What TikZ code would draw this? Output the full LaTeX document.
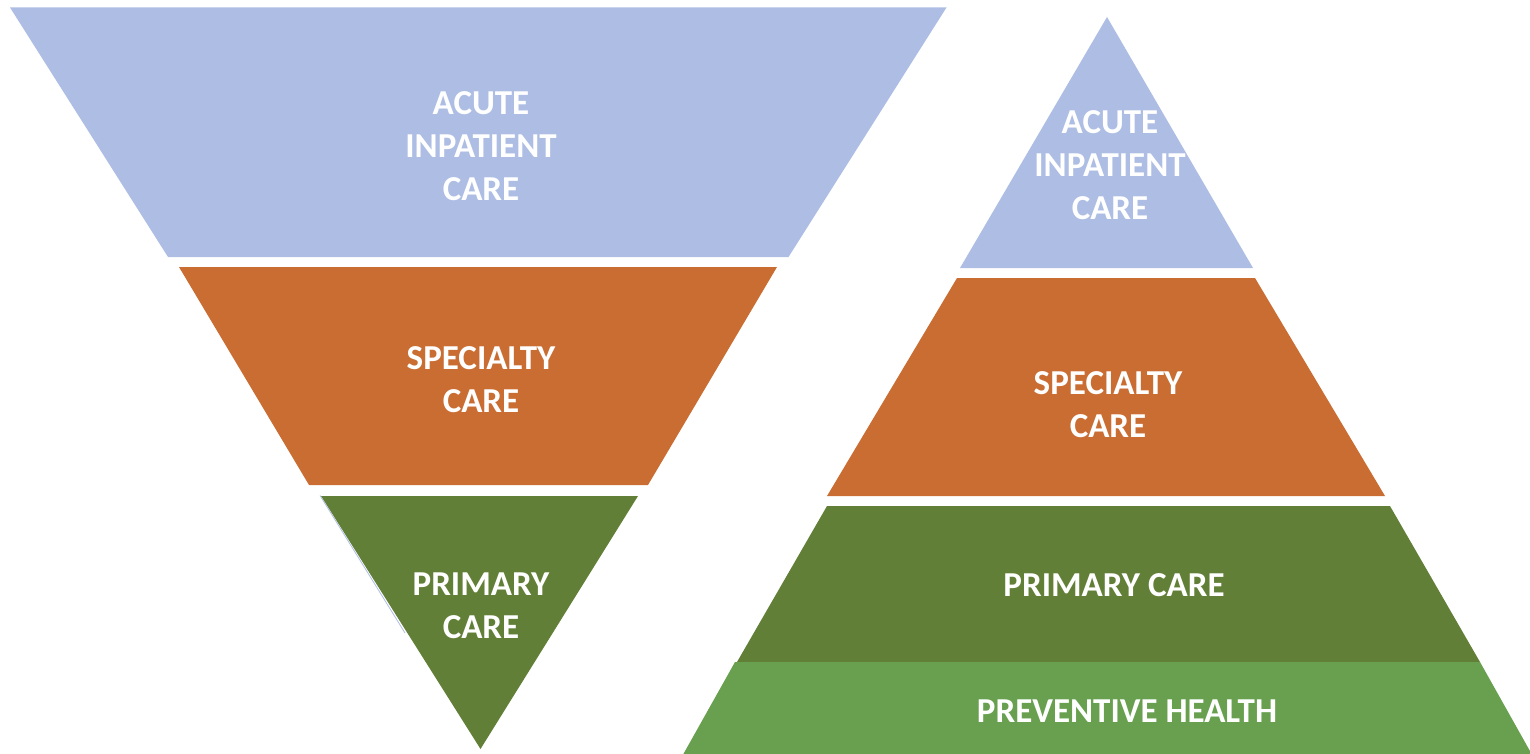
\documentclass[tikz,border=0pt]{standalone}
\usepackage{fontspec}
\setmainfont{Carlito}
\definecolor{cblue}{HTML}{ADBDE3}
\definecolor{corange}{HTML}{C96D33}
\definecolor{cdgreen}{HTML}{627F37}
\definecolor{clgreen}{HTML}{68A04F}
\tikzset{
  lbl/.style={text=white, font=\fontsize{35}{43}\selectfont\bfseries, align=center, inner sep=0pt},
}
\begin{document}
\begin{tikzpicture}[x=1pt,y=-1pt]
\useasboundingbox (0,0) rectangle (1530,754);
\clip (0,0) rectangle (1530,754);
% left inverted pyramid
\fill[cblue] (10,7.5) -- (946.5,7.5) -- (788.5,257) -- (168,257) -- cycle;
\fill[corange] (179,267) -- (777,267) -- (648,485) -- (309,485) -- cycle;
\fill[cdgreen] (321,496) -- (638,496) -- (480.5,749) -- cycle;
\draw[cblue, line width=0.8pt] (320,495.5) -- (405,633);
% right pyramid
\fill[cblue] (1107,17) -- (1253,268) -- (960,268) -- cycle;
\fill[corange] (957,278) -- (1255,278) -- (1385,496) -- (827,496) -- cycle;
\fill[cdgreen] (827,506) -- (1390,506) -- (1480,662) -- (737,662) -- cycle;
\fill[clgreen] (735,662) -- (1480,662) -- (1535,760) -- (680,760) -- cycle;
% labels
\node[lbl] (l1) at (481,146) {ACUTE\\INPATIENT\\CARE};
\node[lbl] (l2) at (481,380) {SPECIALTY\\CARE};
\node[lbl] (l3) at (481,606) {PRIMARY\\CARE};
\node[lbl] (r1) at (1110,165) {ACUTE\\INPATIENT\\CARE};
\node[lbl] (r2) at (1108,405) {SPECIALTY\\CARE};
\node[lbl] (r3) at (1114,585) {PRIMARY CARE};
\node[lbl] (r4) at (1127,711) {PREVENTIVE HEALTH};
\end{tikzpicture}
\end{document}
